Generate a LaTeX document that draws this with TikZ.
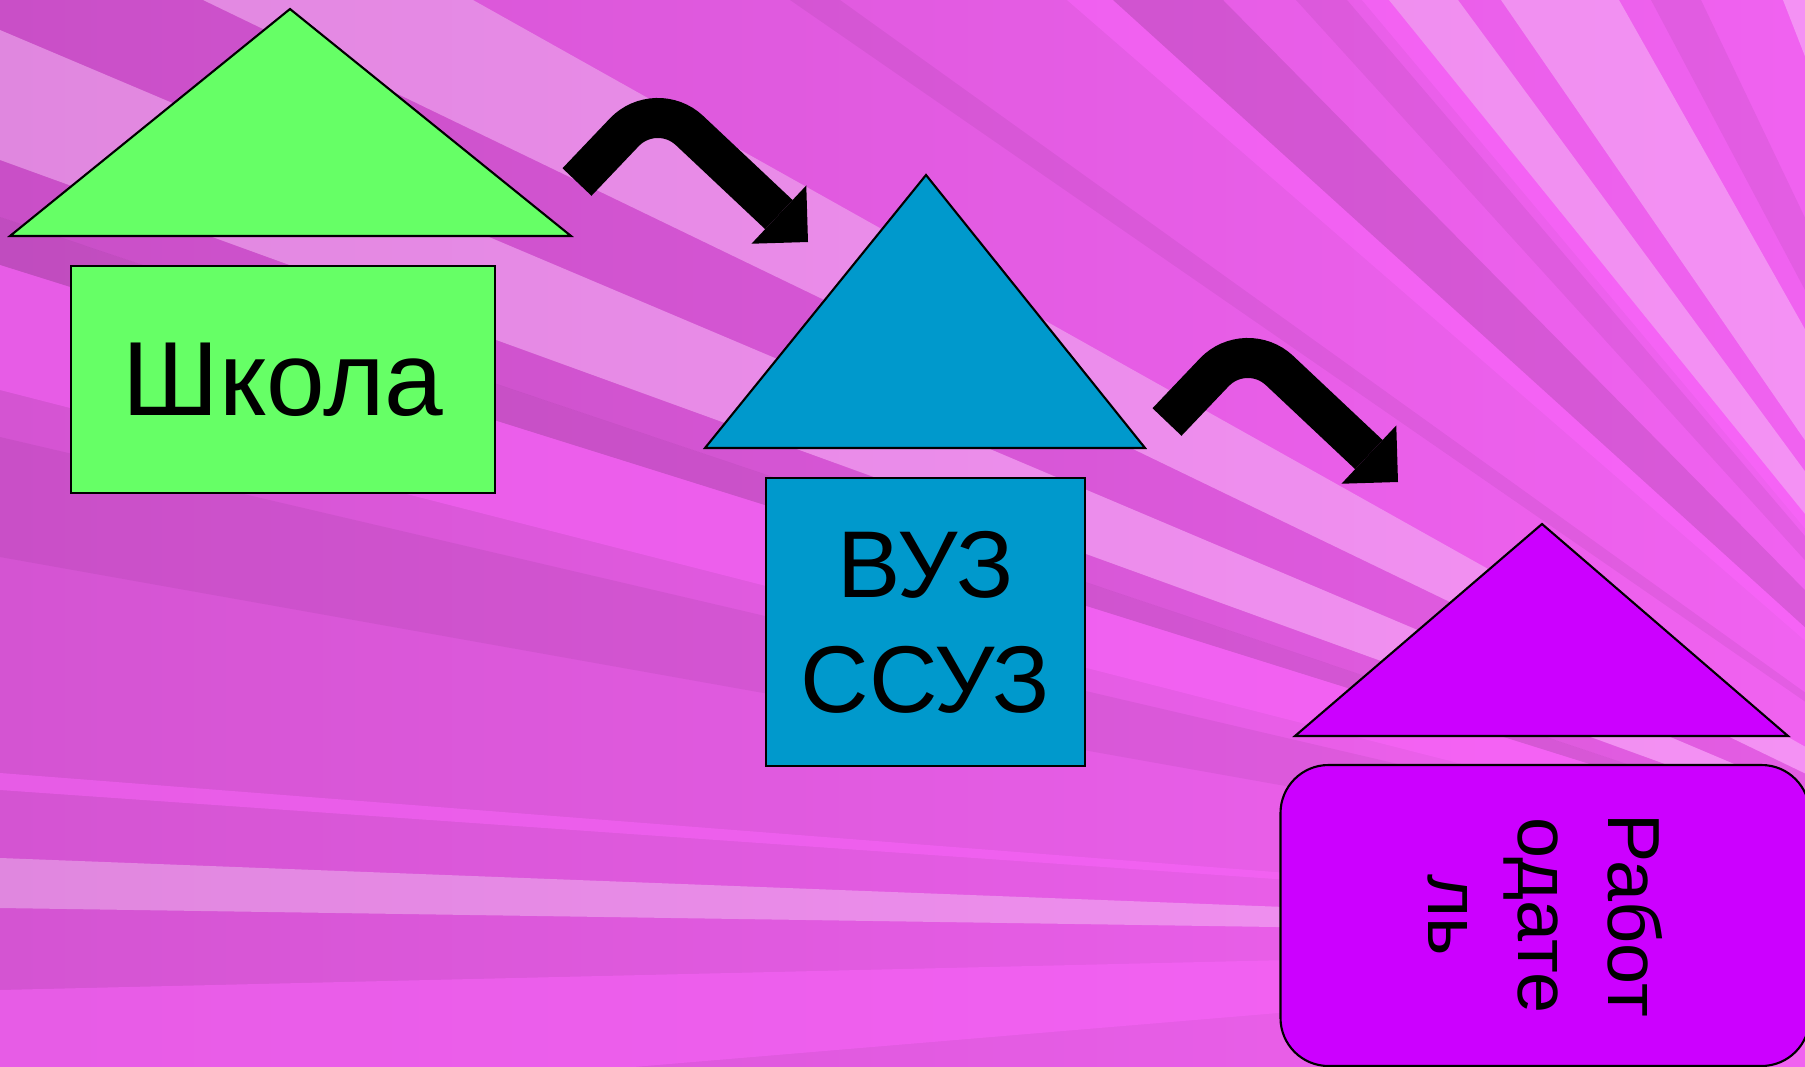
\documentclass[tikz,border=0pt]{standalone}
\usepackage{fontspec}
\setmainfont{Liberation Sans}
\usetikzlibrary{arrows.meta}

\definecolor{bgleft}{HTML}{D454D2}
\definecolor{bgright}{HTML}{F062F0}
\definecolor{raypink}{HTML}{FF66FF}
\definecolor{schoolgreen}{HTML}{66FF66}
\definecolor{unicyan}{HTML}{0099CC}
\definecolor{jobviolet}{HTML}{CC00FF}

\begin{document}
\begin{tikzpicture}
[x=0.1mm,y=-0.1mm,%
  raylight/.style={fill=white,fill opacity=0.3},%
  raydark/.style={fill=black,fill opacity=0.05},%
  raydeep/.style={fill=black,fill opacity=0.09},%
  raybright/.style={fill=raypink,fill opacity=0.45},%
  roof/.style={draw=black,line width=0.6pt,line join=miter},%
  housebox/.style={shape=rectangle,draw=black,line width=0.6pt,align=center,inner sep=0pt},%
  bendarrow/.style={line width=4mm,rounded corners=4.6mm,-{Triangle[length=4mm,width=8mm,line width=0pt]}}]
\useasboundingbox (0,0) rectangle (1805,1067);
\clip (0,0) rectangle (1805,1067);
%% background and rays
\shade[left color=bgleft,right color=bgright] (0,0) rectangle (1805,1067);
\coordinate (focus) at (2150,940);
\foreach \ya/\yb/\raykind in {-98/30/raydark, 30/160/raylight, 160/217/raydark,
  217/265/raydeep, 265/390/raybright, 437/557/raydark, 773/790/raybright,
  858/908/raylight, 990/1120/raybright}
{
  \fill[\raykind] (focus) -- (0,\ya) -- (0,\yb) -- cycle;
}
\foreach \xa/\xb/\raykind in {203/473/raylight, 790/840/raydark, 1067/1113/raybright,
  1113/1223/raydeep, 1296/1347/raydark, 1362/1389/raybright, 1389/1458/raylight,
  1501/1619/raylight, 1651/1701/raydark}
{
  \fill[\raykind] (focus) -- (\xa,0) -- (\xb,0) -- cycle;
}
\fill[raylight] (focus) -- (1783,0) -- (1805,0) -- (1805,260) -- cycle;
%% roofs
\filldraw[roof,fill=schoolgreen] (290,9) -- (10,236) -- (571,236) -- cycle;
\filldraw[roof,fill=unicyan] (926,175) -- (705,448) -- (1145,448) -- cycle;
\filldraw[roof,fill=jobviolet] (1542,524) -- (1295,736) -- (1788,736) -- cycle;
%% boxes
\node[housebox,fill=schoolgreen,minimum width=42.4mm,minimum height=22.7mm,
  font=\fontsize{30}{36}\selectfont] (school) at (283,379.5) {Школа};
\node[housebox,fill=unicyan,minimum width=31.9mm,minimum height=28.8mm,
  font=\fontsize{27}{32.7}\selectfont] (college) at (925.5,622) {ВУЗ\\ССУЗ};
\node[housebox,fill=jobviolet,rounded corners=4.8mm,rotate=-90,
  minimum width=30.1mm,minimum height=52.9mm,
  font=\fontsize{21}{25.6}\selectfont] (employer) at (1545,915.5) {Работ\\одате\\ль};
%% arrows
\coordinate (hopA-tail) at (577,182);
\coordinate (hopA-bend) at (656,99);
\coordinate (hopA-tip) at (808,242);
\coordinate (hopB-tail) at (1167,422);
\coordinate (hopB-bend) at (1246,339);
\coordinate (hopB-tip) at (1398,482);
\draw[bendarrow] (hopA-tail) -- (hopA-bend) -- (hopA-tip);
\draw[bendarrow] (hopB-tail) -- (hopB-bend) -- (hopB-tip);
\end{tikzpicture}
\end{document}
